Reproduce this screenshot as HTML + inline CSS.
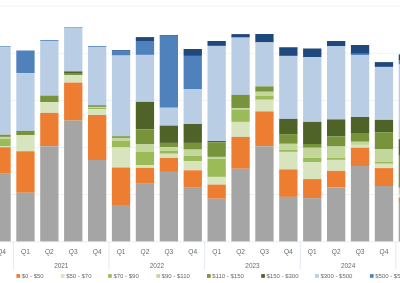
<!DOCTYPE html><html><head><meta charset="utf-8"><style>
html,body{margin:0;padding:0;background:#fff;width:400px;height:283px;overflow:hidden;}
svg{display:block;} .t{will-change:transform;}
text{font-family:"Liberation Sans",sans-serif;fill:#696969;}
</style></head><body>
<svg width="400" height="283" viewBox="0 0 400 283">
<rect x="0" y="5.70" width="400" height="1" fill="#EDF2FA"/>
<rect x="0" y="52.80" width="400" height="1" fill="#EDF2FA"/>
<rect x="0" y="99.90" width="400" height="1" fill="#EDF2FA"/>
<rect x="0" y="146.90" width="400" height="1" fill="#EDF2FA"/>
<rect x="0" y="194.00" width="400" height="1" fill="#EDF2FA"/>
<rect x="-7.60" y="46.30" width="18.3" height="0.90" fill="#4F81BD"/>
<rect x="-7.60" y="47.20" width="18.3" height="87.55" fill="#B9CDE5"/>
<rect x="-7.60" y="134.75" width="18.3" height="2.15" fill="#77933C"/>
<rect x="-7.60" y="136.90" width="18.3" height="1.85" fill="#C3D69B"/>
<rect x="-7.60" y="138.75" width="18.3" height="7.25" fill="#9BBB59"/>
<rect x="-7.60" y="146.00" width="18.3" height="1.25" fill="#D7E4BD"/>
<rect x="-7.60" y="147.25" width="18.3" height="26.50" fill="#ED7D31"/>
<rect x="-7.60" y="173.75" width="18.3" height="67.85" fill="#A5A5A5"/>
<rect x="16.30" y="50.50" width="18.3" height="22.75" fill="#4F81BD"/>
<rect x="16.30" y="73.25" width="18.3" height="57.65" fill="#B9CDE5"/>
<rect x="16.30" y="130.90" width="18.3" height="4.10" fill="#77933C"/>
<rect x="16.30" y="135.00" width="18.3" height="16.25" fill="#D7E4BD"/>
<rect x="16.30" y="151.25" width="18.3" height="41.50" fill="#ED7D31"/>
<rect x="16.30" y="192.75" width="18.3" height="48.85" fill="#A5A5A5"/>
<rect x="40.20" y="40.00" width="18.3" height="0.90" fill="#4F81BD"/>
<rect x="40.20" y="40.90" width="18.3" height="54.70" fill="#B9CDE5"/>
<rect x="40.20" y="95.60" width="18.3" height="6.50" fill="#77933C"/>
<rect x="40.20" y="102.10" width="18.3" height="10.80" fill="#D7E4BD"/>
<rect x="40.20" y="112.90" width="18.3" height="33.35" fill="#ED7D31"/>
<rect x="40.20" y="146.25" width="18.3" height="95.35" fill="#A5A5A5"/>
<rect x="64.10" y="27.00" width="18.3" height="0.70" fill="#4F81BD"/>
<rect x="64.10" y="27.70" width="18.3" height="43.70" fill="#B9CDE5"/>
<rect x="64.10" y="71.40" width="18.3" height="1.60" fill="#4F6228"/>
<rect x="64.10" y="73.00" width="18.3" height="2.10" fill="#77933C"/>
<rect x="64.10" y="75.10" width="18.3" height="7.50" fill="#D7E4BD"/>
<rect x="64.10" y="82.60" width="18.3" height="38.00" fill="#ED7D31"/>
<rect x="64.10" y="120.60" width="18.3" height="121.00" fill="#A5A5A5"/>
<rect x="88.00" y="46.00" width="18.3" height="0.90" fill="#4F81BD"/>
<rect x="88.00" y="46.90" width="18.3" height="58.30" fill="#B9CDE5"/>
<rect x="88.00" y="105.20" width="18.3" height="1.70" fill="#77933C"/>
<rect x="88.00" y="106.90" width="18.3" height="1.00" fill="#C3D69B"/>
<rect x="88.00" y="107.90" width="18.3" height="1.20" fill="#9BBB59"/>
<rect x="88.00" y="109.10" width="18.3" height="5.90" fill="#D7E4BD"/>
<rect x="88.00" y="115.00" width="18.3" height="45.00" fill="#ED7D31"/>
<rect x="88.00" y="160.00" width="18.3" height="81.60" fill="#A5A5A5"/>
<rect x="111.90" y="50.00" width="18.3" height="0.80" fill="#1F497D"/>
<rect x="111.90" y="50.80" width="18.3" height="4.80" fill="#4F81BD"/>
<rect x="111.90" y="55.60" width="18.3" height="80.65" fill="#B9CDE5"/>
<rect x="111.90" y="136.25" width="18.3" height="1.65" fill="#77933C"/>
<rect x="111.90" y="137.90" width="18.3" height="3.00" fill="#C3D69B"/>
<rect x="111.90" y="140.90" width="18.3" height="6.60" fill="#9BBB59"/>
<rect x="111.90" y="147.50" width="18.3" height="20.00" fill="#D7E4BD"/>
<rect x="111.90" y="167.50" width="18.3" height="37.50" fill="#ED7D31"/>
<rect x="111.90" y="205.00" width="18.3" height="36.60" fill="#A5A5A5"/>
<rect x="135.80" y="37.10" width="18.3" height="3.90" fill="#1F497D"/>
<rect x="135.80" y="41.00" width="18.3" height="13.90" fill="#4F81BD"/>
<rect x="135.80" y="54.90" width="18.3" height="47.00" fill="#B9CDE5"/>
<rect x="135.80" y="101.90" width="18.3" height="27.50" fill="#4F6228"/>
<rect x="135.80" y="129.40" width="18.3" height="14.60" fill="#77933C"/>
<rect x="135.80" y="144.00" width="18.3" height="7.70" fill="#C3D69B"/>
<rect x="135.80" y="151.70" width="18.3" height="13.55" fill="#9BBB59"/>
<rect x="135.80" y="165.25" width="18.3" height="2.65" fill="#D7E4BD"/>
<rect x="135.80" y="167.90" width="18.3" height="15.20" fill="#ED7D31"/>
<rect x="135.80" y="183.10" width="18.3" height="58.50" fill="#A5A5A5"/>
<rect x="159.70" y="35.00" width="18.3" height="0.80" fill="#1F497D"/>
<rect x="159.70" y="35.80" width="18.3" height="71.95" fill="#4F81BD"/>
<rect x="159.70" y="107.75" width="18.3" height="17.85" fill="#B9CDE5"/>
<rect x="159.70" y="125.60" width="18.3" height="17.30" fill="#4F6228"/>
<rect x="159.70" y="142.90" width="18.3" height="4.35" fill="#77933C"/>
<rect x="159.70" y="147.25" width="18.3" height="3.50" fill="#C3D69B"/>
<rect x="159.70" y="150.75" width="18.3" height="3.00" fill="#9BBB59"/>
<rect x="159.70" y="153.75" width="18.3" height="4.15" fill="#D7E4BD"/>
<rect x="159.70" y="157.90" width="18.3" height="14.00" fill="#ED7D31"/>
<rect x="159.70" y="171.90" width="18.3" height="69.70" fill="#A5A5A5"/>
<rect x="183.60" y="49.00" width="18.3" height="6.90" fill="#1F497D"/>
<rect x="183.60" y="55.90" width="18.3" height="33.10" fill="#4F81BD"/>
<rect x="183.60" y="89.00" width="18.3" height="35.00" fill="#B9CDE5"/>
<rect x="183.60" y="124.00" width="18.3" height="18.90" fill="#4F6228"/>
<rect x="183.60" y="142.90" width="18.3" height="6.70" fill="#77933C"/>
<rect x="183.60" y="149.60" width="18.3" height="6.40" fill="#C3D69B"/>
<rect x="183.60" y="156.00" width="18.3" height="5.00" fill="#9BBB59"/>
<rect x="183.60" y="161.00" width="18.3" height="9.30" fill="#D7E4BD"/>
<rect x="183.60" y="170.30" width="18.3" height="16.80" fill="#ED7D31"/>
<rect x="183.60" y="187.10" width="18.3" height="54.50" fill="#A5A5A5"/>
<rect x="207.50" y="41.00" width="18.3" height="4.90" fill="#1F497D"/>
<rect x="207.50" y="45.90" width="18.3" height="95.10" fill="#B9CDE5"/>
<rect x="207.50" y="141.00" width="18.3" height="1.25" fill="#4F6228"/>
<rect x="207.50" y="142.25" width="18.3" height="14.65" fill="#77933C"/>
<rect x="207.50" y="156.90" width="18.3" height="1.85" fill="#C3D69B"/>
<rect x="207.50" y="158.75" width="18.3" height="18.15" fill="#9BBB59"/>
<rect x="207.50" y="176.90" width="18.3" height="7.70" fill="#D7E4BD"/>
<rect x="207.50" y="184.60" width="18.3" height="14.15" fill="#ED7D31"/>
<rect x="207.50" y="198.75" width="18.3" height="42.85" fill="#A5A5A5"/>
<rect x="231.40" y="34.10" width="18.3" height="3.50" fill="#1F497D"/>
<rect x="231.40" y="37.60" width="18.3" height="57.30" fill="#B9CDE5"/>
<rect x="231.40" y="94.90" width="18.3" height="13.35" fill="#77933C"/>
<rect x="231.40" y="108.25" width="18.3" height="1.25" fill="#C3D69B"/>
<rect x="231.40" y="109.50" width="18.3" height="12.40" fill="#9BBB59"/>
<rect x="231.40" y="121.90" width="18.3" height="15.00" fill="#D7E4BD"/>
<rect x="231.40" y="136.90" width="18.3" height="31.85" fill="#ED7D31"/>
<rect x="231.40" y="168.75" width="18.3" height="72.85" fill="#A5A5A5"/>
<rect x="255.30" y="34.00" width="18.3" height="8.40" fill="#1F497D"/>
<rect x="255.30" y="42.40" width="18.3" height="44.00" fill="#B9CDE5"/>
<rect x="255.30" y="86.40" width="18.3" height="5.35" fill="#77933C"/>
<rect x="255.30" y="91.75" width="18.3" height="4.00" fill="#C3D69B"/>
<rect x="255.30" y="95.75" width="18.3" height="4.00" fill="#9BBB59"/>
<rect x="255.30" y="99.75" width="18.3" height="11.65" fill="#D7E4BD"/>
<rect x="255.30" y="111.40" width="18.3" height="34.85" fill="#ED7D31"/>
<rect x="255.30" y="146.25" width="18.3" height="95.35" fill="#A5A5A5"/>
<rect x="279.20" y="47.25" width="18.3" height="8.65" fill="#1F497D"/>
<rect x="279.20" y="55.90" width="18.3" height="63.00" fill="#B9CDE5"/>
<rect x="279.20" y="118.90" width="18.3" height="15.20" fill="#4F6228"/>
<rect x="279.20" y="134.10" width="18.3" height="9.70" fill="#77933C"/>
<rect x="279.20" y="143.80" width="18.3" height="6.20" fill="#C3D69B"/>
<rect x="279.20" y="150.00" width="18.3" height="1.90" fill="#9BBB59"/>
<rect x="279.20" y="151.90" width="18.3" height="17.50" fill="#D7E4BD"/>
<rect x="279.20" y="169.40" width="18.3" height="27.50" fill="#ED7D31"/>
<rect x="279.20" y="196.90" width="18.3" height="44.70" fill="#A5A5A5"/>
<rect x="303.10" y="48.50" width="18.3" height="8.50" fill="#1F497D"/>
<rect x="303.10" y="57.00" width="18.3" height="64.90" fill="#B9CDE5"/>
<rect x="303.10" y="121.90" width="18.3" height="22.10" fill="#4F6228"/>
<rect x="303.10" y="144.00" width="18.3" height="3.75" fill="#77933C"/>
<rect x="303.10" y="147.75" width="18.3" height="10.25" fill="#C3D69B"/>
<rect x="303.10" y="158.00" width="18.3" height="4.00" fill="#9BBB59"/>
<rect x="303.10" y="162.00" width="18.3" height="17.10" fill="#D7E4BD"/>
<rect x="303.10" y="179.10" width="18.3" height="19.00" fill="#ED7D31"/>
<rect x="303.10" y="198.10" width="18.3" height="43.50" fill="#A5A5A5"/>
<rect x="327.00" y="41.00" width="18.3" height="5.00" fill="#1F497D"/>
<rect x="327.00" y="46.00" width="18.3" height="73.40" fill="#B9CDE5"/>
<rect x="327.00" y="119.40" width="18.3" height="17.10" fill="#4F6228"/>
<rect x="327.00" y="136.50" width="18.3" height="10.00" fill="#77933C"/>
<rect x="327.00" y="146.50" width="18.3" height="11.25" fill="#C3D69B"/>
<rect x="327.00" y="157.75" width="18.3" height="2.15" fill="#9BBB59"/>
<rect x="327.00" y="159.90" width="18.3" height="11.00" fill="#D7E4BD"/>
<rect x="327.00" y="170.90" width="18.3" height="16.60" fill="#ED7D31"/>
<rect x="327.00" y="187.50" width="18.3" height="54.10" fill="#A5A5A5"/>
<rect x="350.90" y="45.00" width="18.3" height="8.80" fill="#1F497D"/>
<rect x="350.90" y="53.80" width="18.3" height="1.20" fill="#4F81BD"/>
<rect x="350.90" y="55.00" width="18.3" height="62.00" fill="#B9CDE5"/>
<rect x="350.90" y="117.00" width="18.3" height="16.00" fill="#4F6228"/>
<rect x="350.90" y="133.00" width="18.3" height="8.75" fill="#77933C"/>
<rect x="350.90" y="141.75" width="18.3" height="3.15" fill="#C3D69B"/>
<rect x="350.90" y="144.90" width="18.3" height="2.85" fill="#D7E4BD"/>
<rect x="350.90" y="147.75" width="18.3" height="18.25" fill="#ED7D31"/>
<rect x="350.90" y="166.00" width="18.3" height="75.60" fill="#A5A5A5"/>
<rect x="374.80" y="62.10" width="18.3" height="4.80" fill="#1F497D"/>
<rect x="374.80" y="66.90" width="18.3" height="53.00" fill="#B9CDE5"/>
<rect x="374.80" y="119.90" width="18.3" height="12.30" fill="#4F6228"/>
<rect x="374.80" y="132.20" width="18.3" height="16.80" fill="#77933C"/>
<rect x="374.80" y="149.00" width="18.3" height="12.75" fill="#C3D69B"/>
<rect x="374.80" y="161.75" width="18.3" height="2.00" fill="#9BBB59"/>
<rect x="374.80" y="163.75" width="18.3" height="4.35" fill="#D7E4BD"/>
<rect x="374.80" y="168.10" width="18.3" height="17.90" fill="#ED7D31"/>
<rect x="374.80" y="186.00" width="18.3" height="55.60" fill="#A5A5A5"/>
<rect x="398.70" y="54.40" width="18.3" height="5.60" fill="#1F497D"/>
<rect x="398.70" y="60.00" width="18.3" height="4.50" fill="#4F81BD"/>
<rect x="398.70" y="64.50" width="18.3" height="74.70" fill="#B9CDE5"/>
<rect x="398.70" y="139.20" width="18.3" height="16.50" fill="#4F6228"/>
<rect x="398.70" y="155.70" width="18.3" height="32.10" fill="#77933C"/>
<rect x="398.70" y="187.80" width="18.3" height="6.70" fill="#C3D69B"/>
<rect x="398.70" y="194.50" width="18.3" height="3.00" fill="#D7E4BD"/>
<rect x="398.70" y="197.50" width="18.3" height="4.50" fill="#ED7D31"/>
<rect x="398.70" y="202.00" width="18.3" height="39.60" fill="#A5A5A5"/>
<rect x="0" y="241.60" width="400" height="0.6" fill="#DDE5F0"/>
<rect x="12.95" y="241.60" width="1" height="27.60" fill="#E2EAF5"/>
<rect x="108.55" y="241.60" width="1" height="27.60" fill="#E2EAF5"/>
<rect x="204.15" y="241.60" width="1" height="27.60" fill="#E2EAF5"/>
<rect x="299.75" y="241.60" width="1" height="27.60" fill="#E2EAF5"/>
<rect x="395.35" y="241.60" width="1" height="27.60" fill="#E2EAF5"/>
<g class="t">
<text x="1.55" y="253.6" font-size="6.6" text-anchor="middle">Q4</text>
<text x="25.45" y="253.6" font-size="6.6" text-anchor="middle">Q1</text>
<text x="49.35" y="253.6" font-size="6.6" text-anchor="middle">Q2</text>
<text x="73.25" y="253.6" font-size="6.6" text-anchor="middle">Q3</text>
<text x="97.15" y="253.6" font-size="6.6" text-anchor="middle">Q4</text>
<text x="121.05" y="253.6" font-size="6.6" text-anchor="middle">Q1</text>
<text x="144.95" y="253.6" font-size="6.6" text-anchor="middle">Q2</text>
<text x="168.85" y="253.6" font-size="6.6" text-anchor="middle">Q3</text>
<text x="192.75" y="253.6" font-size="6.6" text-anchor="middle">Q4</text>
<text x="216.65" y="253.6" font-size="6.6" text-anchor="middle">Q1</text>
<text x="240.55" y="253.6" font-size="6.6" text-anchor="middle">Q2</text>
<text x="264.45" y="253.6" font-size="6.6" text-anchor="middle">Q3</text>
<text x="288.35" y="253.6" font-size="6.6" text-anchor="middle">Q4</text>
<text x="312.25" y="253.6" font-size="6.6" text-anchor="middle">Q1</text>
<text x="336.15" y="253.6" font-size="6.6" text-anchor="middle">Q2</text>
<text x="360.05" y="253.6" font-size="6.6" text-anchor="middle">Q3</text>
<text x="383.95" y="253.6" font-size="6.6" text-anchor="middle">Q4</text>
<text x="407.85" y="253.6" font-size="6.6" text-anchor="middle">Q1</text>
<text x="61.30" y="268" font-size="8" text-anchor="middle" textLength="14.3" lengthAdjust="spacingAndGlyphs">2021</text>
<text x="156.90" y="268" font-size="8" text-anchor="middle" textLength="14.3" lengthAdjust="spacingAndGlyphs">2022</text>
<text x="252.50" y="268" font-size="8" text-anchor="middle" textLength="14.3" lengthAdjust="spacingAndGlyphs">2023</text>
<text x="348.10" y="268" font-size="8" text-anchor="middle" textLength="14.3" lengthAdjust="spacingAndGlyphs">2024</text>
<rect x="16.40" y="274.1" width="3.7" height="3.7" fill="#ED7D31"/>
<text x="21.70" y="278.2" font-size="6">$0 - $50</text>
<rect x="60.90" y="274.1" width="3.7" height="3.7" fill="#D7E4BD"/>
<text x="66.20" y="278.2" font-size="6">$50 - $70</text>
<rect x="108.10" y="274.1" width="3.7" height="3.7" fill="#9BBB59"/>
<text x="113.40" y="278.2" font-size="6">$70 - $90</text>
<rect x="156.30" y="274.1" width="3.7" height="3.7" fill="#C3D69B"/>
<text x="161.60" y="278.2" font-size="6">$90 - $110</text>
<rect x="207.00" y="274.1" width="3.7" height="3.7" fill="#77933C"/>
<text x="212.30" y="278.2" font-size="6">$110 - $150</text>
<rect x="261.20" y="274.1" width="3.7" height="3.7" fill="#4F6228"/>
<text x="266.50" y="278.2" font-size="6">$150 - $300</text>
<rect x="315.10" y="274.1" width="3.7" height="3.7" fill="#B9CDE5"/>
<text x="320.40" y="278.2" font-size="6">$300 - $500</text>
<rect x="369.90" y="274.1" width="3.7" height="3.7" fill="#4F81BD"/>
<text x="375.20" y="278.2" font-size="6">$500 - $5000</text>
</g>
</svg></body></html>
